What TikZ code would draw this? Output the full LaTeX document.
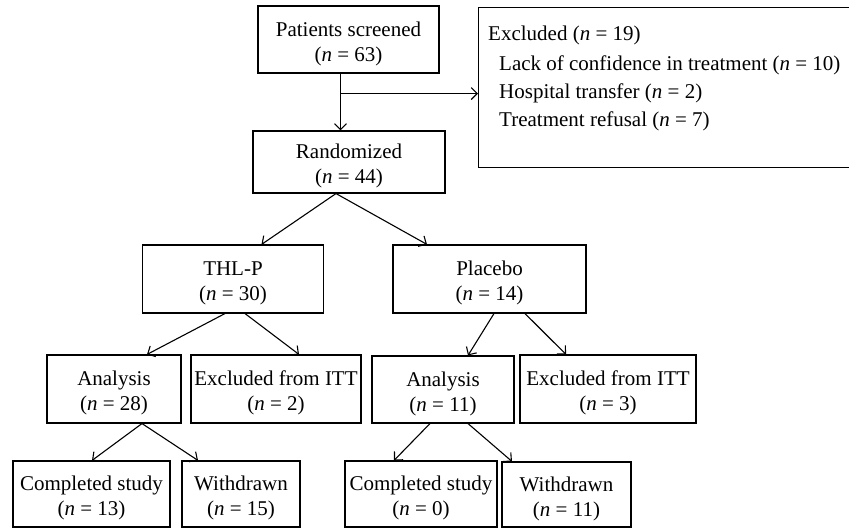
\documentclass[tikz,border=0pt]{standalone}
\usepackage{fontspec}
\setmainfont{Liberation Serif}
\usetikzlibrary{arrows.meta}

\tikzset{
  box/.style={draw, line width=1.1pt, minimum height=68pt, inner sep=0pt,
    align=center, text height=48pt, font=\fontsize{21}{25}\selectfont},
  flow/.style={-{Straight Barb[length=6pt,width=12pt]}, line width=1.1pt},
}
\newcommand{\nn}[1]{(\textit{n} = #1)}

\begin{document}
\begin{tikzpicture}[x=1pt, y=-1pt]
    \useasboundingbox (0,0) rectangle (849,529);

    % Screening
    \node[box, minimum width=181pt, minimum height=67pt] (scr) at (348.5,39.5) {Patients screened\\\nn{63}};
    \node[draw, line width=1.1pt, anchor=north west, minimum width=372pt, minimum height=160pt] (excl) at (478,7) {};
    \node[anchor=north west, align=left, inner sep=0pt, font=\fontsize{21}{28}\selectfont]
      (exclt) at ([xshift=10pt,yshift=-19pt]excl.north west)
      {Excluded \nn{19}\\[2pt]
       \hspace*{11pt}Lack of confidence in treatment \nn{10}\\
       \hspace*{11pt}Hospital transfer \nn{2}\\
       \hspace*{11pt}Treatment refusal \nn{7}};
    \node[box, minimum width=192pt, minimum height=62pt] (rand) at (349,162) {Randomized\\\nn{44}};

    % Arms
    \node[box, minimum width=181pt] (thl) at (233,279) {THL-P\\\nn{30}};
    \node[box, minimum width=193pt] (plac) at (489.5,279) {Placebo\\\nn{14}};

    \node[box, minimum width=134pt] (ana1) at (114,389) {Analysis\\\nn{28}};
    \node[box, minimum width=170pt] (exi1) at (276,389) {Excluded from ITT\\\nn{2}};
    \node[box, minimum width=142pt, minimum height=67pt] (ana2) at (443,389.5) {Analysis\\\nn{11}};
    \node[box, minimum width=176pt] (exi2) at (608,389) {Excluded from ITT\\\nn{3}};

    \node[box, minimum width=157pt, minimum height=66pt] (cs1) at (91.5,494) {Completed study\\\nn{13}};
    \node[box, minimum width=118pt, minimum height=66pt] (wd1) at (241,494) {Withdrawn\\\nn{15}};
    \node[box, minimum width=152pt, minimum height=66pt] (cs2) at (421,494) {Completed study\\\nn{0}};
    \node[box, minimum width=129pt, minimum height=65pt] (wd2) at (566.5,494.5) {Withdrawn\\\nn{11}};

    % Edges
    \coordinate (trunk) at ([xshift=-8pt]scr.south);
    \coordinate (branch) at ([yshift=-20pt]trunk);
    \draw[flow] (trunk) -- (trunk |- rand.north);
    \draw[flow] (branch) -- (branch -| excl.west);

    \draw[flow] ([xshift=-13pt]rand.south) -- ([xshift=28.5pt]thl.north);
    \draw[flow] ([xshift=-13pt]rand.south) -- ([xshift=-62.5pt]plac.north);

    \draw[flow] ([xshift=-8pt]thl.south) -- ([xshift=33pt]ana1.north);
    \draw[flow] ([xshift=12pt]thl.south) -- ([xshift=23pt]exi1.north);
    \draw[flow] ([xshift=4.5pt]plac.south) -- ([xshift=25pt]ana2.north);
    \draw[flow] ([xshift=35.5pt]plac.south) -- ([xshift=-42pt]exi2.north);

    \draw[flow] ([xshift=28pt]ana1.south) -- ([xshift=0.5pt]cs1.north);
    \draw[flow] ([xshift=28pt]ana1.south) -- ([xshift=-43pt]wd1.north);
    \draw[flow] ([xshift=-13pt]ana2.south) -- ([xshift=-27pt]cs2.north);
    \draw[flow] ([xshift=25pt]ana2.south) -- ([xshift=-54.5pt]wd2.north);
\end{tikzpicture}
\end{document}
